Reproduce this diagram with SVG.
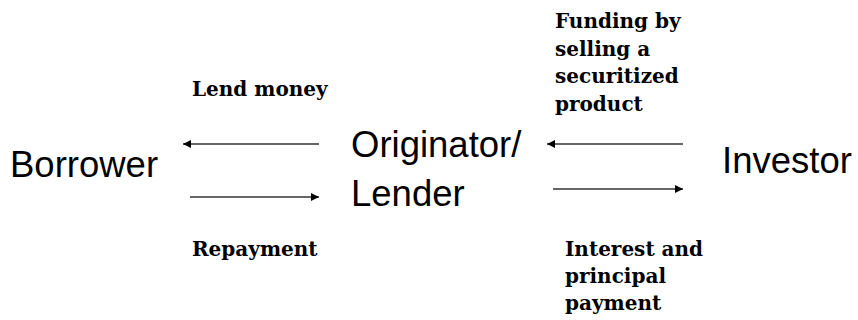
<svg xmlns="http://www.w3.org/2000/svg" width="858" height="320" viewBox="0 0 858 320">
<style>
.node{font-family:"Liberation Sans",Arial,sans-serif;font-size:36.5px;fill:#000}
.lbl{font-family:"DejaVu Serif","Liberation Serif",serif;font-weight:bold;font-size:20px;fill:#000}
.ln{stroke:#333;stroke-width:1.3;fill:none}
</style>
<defs>
<marker id="ah" viewBox="0 0 10 10" refX="10" refY="5" markerWidth="8" markerHeight="8" markerUnits="userSpaceOnUse" orient="auto">
<path d="M0,0 L10,5 L0,10 z" fill="#000"/>
</marker>
</defs>
<g id="borrower"><text class="node" x="10" y="177">Borrower</text></g>
<g id="originator"><text class="node" x="351" y="157">Originator/</text><text class="node" x="351" y="206">Lender</text></g>
<g id="investor"><text class="node" x="722" y="173">Investor</text></g>
<g id="connectors">
<line class="ln" x1="319" y1="144" x2="183" y2="144" marker-end="url(#ah)"/>
<line class="ln" x1="190" y1="197" x2="319" y2="197" marker-end="url(#ah)"/>
<line class="ln" x1="683" y1="144" x2="547" y2="144" marker-end="url(#ah)"/>
<line class="ln" x1="553" y1="189" x2="683" y2="189" marker-end="url(#ah)"/>
</g>
<g id="labels">
<text class="lbl" x="192" y="96">Lend money</text>
<text class="lbl" x="192" y="256">Repayment</text>
<text class="lbl" x="555" y="28">Funding by</text>
<text class="lbl" x="555" y="55.5">selling a</text>
<text class="lbl" x="555" y="83">securitized</text>
<text class="lbl" x="555" y="110.5">product</text>
<text class="lbl" x="565" y="256">Interest and</text>
<text class="lbl" x="565" y="283">principal</text>
<text class="lbl" x="565" y="310">payment</text>
</g>
</svg>
